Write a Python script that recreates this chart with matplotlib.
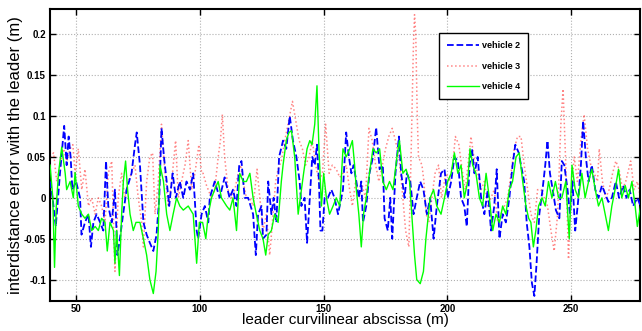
import numpy as np
import matplotlib
matplotlib.use("Agg")
import matplotlib.pyplot as plt

plt.rcParams['font.family'] = ['Liberation Sans', 'DejaVu Sans']

# vehicle 2 (blue dashed)
x2 = [39.5, 40.5, 41.8, 43.5, 45.2, 46.2, 47, 47.8, 48.5, 50, 51.6, 52.2, 53.6, 55, 56, 57, 58.3, 59.7, 61,
      62.1, 63, 64.4, 65.7, 66.7, 67.7, 69, 70.4, 72.4, 73.8, 74.5, 75.8, 77.2, 78.5, 79.8, 81.2, 82.5, 83.6,
      84.5, 85.5, 86.6, 87.6, 89, 90.3, 91.9, 93.3, 94.6, 96, 97.3, 98.7, 99.3, 100.7, 102, 103.4, 104, 106,
      108, 110, 112, 113.4, 114.8, 115.9, 116.8, 118.1, 119.5, 121.5, 122.6, 123.5, 124.9, 125.5, 126.9,
      127.6, 128.9, 129.8, 130.9, 132, 133.6, 134.9, 136.3, 137.6, 139, 140.3, 141, 142.3, 143.3, 144.4,
      145.4, 146.4, 147.3, 148.1, 148.7, 149.5, 150.4, 151.7, 153.1, 154.4, 155.8, 157.8, 159.1, 160.2,
      161.2, 162.1, 163.2, 164.2, 165.2, 165.9, 167.2, 168.5, 169.9, 171.2, 172.6, 173.9, 174.6, 175.9,
      176.9, 177.7, 179, 180.4, 181.3, 182.7, 183.6, 185, 186.3, 187.6, 189, 190.3, 191.7, 193, 194.4,
      195.7, 197.4, 198.8, 200.1, 201.5, 202.8, 204.2, 205.5, 206.8, 207.8, 208.9, 209.9, 210.9, 212.2,
      213.6, 214.9, 216.3, 217.6, 218.9, 219.9, 221, 222.3, 223.6, 225, 226.3, 227.4, 228.8, 229.7, 231,
      232, 233.1, 234.1, 235.1, 236, 237.1, 238.4, 239.5, 240.4, 241.4, 242.5, 243.8, 245.2, 246.2, 247.2,
      248.5, 249.5, 250.5, 251.6, 252.9, 253.9, 254.8, 255.9, 257, 258.3, 259.7, 261, 262.4, 263.7, 265,
      266.4, 268, 269.3, 271, 272.3, 273.6, 275, 276.7, 278]
err2 = [0.02, 0.0, -0.035, 0.03, 0.088, 0.04, 0.075, 0.05, 0.01, 0.02, 0.0, -0.045, -0.03, -0.02, -0.06,
        -0.03, -0.02, -0.03, -0.04, 0.045, -0.01, -0.03, 0.01, -0.07, -0.05, -0.02, 0.01, 0.03, 0.065, 0.08,
        0.04, -0.03, -0.045, -0.055, -0.065, -0.045, 0.0, 0.085, 0.05, 0.02, -0.01, 0.03, 0.0, 0.02, 0.0,
        0.02, 0.01, 0.03, -0.04, -0.05, -0.02, -0.01, -0.03, 0.0, 0.02, 0.0, 0.025, 0.0, 0.01, -0.01, 0.04,
        0.045, 0.0, 0.0, -0.02, -0.07, -0.02, -0.01, -0.05, -0.045, 0.02, -0.02, 0.0, -0.03, 0.05, 0.07,
        0.06, 0.1, 0.07, 0.05, 0.02, -0.01, 0.0, -0.055, 0.0, 0.05, 0.04, 0.065, 0.02, -0.04, -0.04, 0.0,
        0.0, 0.01, 0.0, -0.02, 0.01, 0.08, 0.05, 0.03, 0.04, 0.02, 0.0, 0.02, -0.03, -0.01, 0.03, 0.05,
        0.086, 0.035, 0.04, -0.025, -0.04, 0.0, -0.05, 0.03, 0.075, 0.03, 0.0, 0.03, 0.02, -0.02, 0.0,
        0.02, 0.01, -0.02, 0.0, -0.05, -0.01, 0.03, 0.035, 0.0, 0.02, 0.05, 0.045, 0.0, -0.01, -0.035,
        0.04, 0.06, 0.03, 0.05, 0.0, -0.02, 0.01, -0.04, -0.01, 0.035, -0.05, -0.02, -0.03, 0.0, 0.04,
        0.065, 0.055, 0.04, 0.02, -0.03, -0.06, -0.104, -0.12, -0.08, -0.02, 0.01, 0.04, 0.07, 0.03, 0.01,
        -0.015, -0.025, 0.045, 0.04, 0.01, -0.02, 0.02, -0.04, 0.0, 0.04, 0.094, 0.05, 0.02, 0.04, 0.01,
        0.0, 0.015, 0.005, -0.005, 0.0, 0.02, 0.0, 0.015, 0.0, 0.01, -0.01, 0.0, -0.01]

# vehicle 3 (red dotted)
x3 = [39.5, 40.9, 42.2, 43.5, 45, 46.2, 47.6, 48.7, 49.6, 50.9, 52.3, 53.6, 55, 56.3, 57.7, 59, 60.3, 61.7,
      63, 64.4, 65.7, 67, 68.4, 69.7, 71, 72.4, 73.8, 75.1, 76.5, 77.2, 78.5, 79.8, 80.9, 81.9, 83.2, 84.5,
      85.9, 87.2, 88.6, 90.2, 91.3, 92.6, 94, 95.3, 96.7, 98, 99.6, 100.7, 101.3, 102.7, 104.7, 106, 107.4,
      108.3, 109.1, 110, 111.4, 112.8, 114.1, 115.5, 116.4, 117.5, 118.8, 120.2, 121.5, 123.1, 124.2,
      125.5, 126.9, 128.2, 129.3, 130.6, 131.6, 132.9, 134.3, 135.6, 137.4, 138.7, 140.1, 141.4, 142.7,
      144.1, 145.4, 146.8, 148.1, 149.5, 150.8, 152.2, 153.5, 155.1, 156.5, 157.8, 159.1, 160.5, 161.6,
      162.9, 164.2, 165.6, 166.9, 168.3, 169.6, 171, 172.3, 173.7, 175, 176.3, 177.7, 179, 180.4, 181.7,
      183.1, 184.4, 185.3, 186.2, 186.7, 187.2, 187.8, 188.3, 189.7, 190.5, 191.4, 192.5, 193.7, 195,
      196.4, 197.6, 198.8, 199.4, 200.8, 202.1, 203.2, 204.6, 205.9, 207.2, 208.6, 209.5, 210.9, 212.2,
      213.6, 214.9, 216.3, 217.6, 218.9, 220.3, 221.6, 223, 224.3, 225.7, 227, 228.3, 229.7, 231, 232.4,
      233.7, 235.1, 236.4, 237.8, 239.1, 240.4, 241.8, 243.1, 244.5, 245.8, 246.7, 247.8, 248.9, 249.8,
      251.2, 252.5, 253.9, 255.2, 256.6, 257.9, 259.3, 260.6, 261.3, 262.6, 264, 265.3, 266.7, 268,
      269.3, 270.7, 272, 274, 275.4, 276.7, 278]
err3 = [0.05, 0.055, 0.02, 0.04, 0.06, 0.045, 0.06, 0.065, 0.03, 0.06, 0.01, 0.035, -0.01, 0.0, -0.02, 0.0,
        -0.01, -0.03, 0.03, 0.045, -0.09, 0.0, 0.03, 0.0, 0.02, 0.03, 0.04, 0.0, -0.03, -0.06, 0.02, 0.05,
        0.055, -0.02, 0.02, 0.09, 0.03, -0.01, 0.02, 0.07, 0.0, 0.02, 0.04, 0.07, 0.01, 0.03, 0.065, 0.03,
        0.03, 0.015, 0.0, 0.01, 0.05, 0.07, 0.102, 0.05, 0.01, 0.0, 0.01, 0.03, 0.04, 0.02, 0.0, 0.0, -0.01,
        0.035, 0.0, -0.04, -0.02, -0.07, -0.03, 0.02, 0.035, 0.045, 0.07, 0.09, 0.118, 0.095, 0.07, 0.06,
        0.04, 0.05, 0.07, 0.04, 0.02, 0.03, 0.09, 0.03, 0.04, 0.035, 0.025, 0.03, 0.04, 0.01, -0.01, 0.02,
        0.0, 0.015, 0.0, 0.085, 0.07, 0.04, 0.02, 0.04, 0.06, 0.075, 0.085, 0.07, 0.05, 0.01, -0.04, -0.06,
        0.05, 0.18, 0.224, 0.2, 0.1, 0.05, 0.04, 0.02, -0.02, -0.03, 0.0, 0.03, 0.04, 0.0, 0.02, 0.03, 0.02,
        0.04, 0.075, 0.065, 0.035, 0.01, 0.05, 0.075, 0.045, 0.03, 0.01, 0.02, -0.01, 0.0, 0.01, -0.03,
        -0.02, -0.01, 0.0, 0.03, 0.06, 0.075, 0.075, 0.04, 0.01, -0.02, -0.03, 0.01, 0.01, 0.0, -0.01,
        -0.04, -0.065, -0.02, 0.09, 0.133, 0.04, -0.075, 0.0, 0.05, 0.02, 0.07, 0.102, 0.06, 0.04, 0.03,
        0.02, 0.06, 0.02, 0.0, 0.01, 0.03, 0.045, 0.035, 0.01, 0.02, 0.045, 0.01, 0.02, 0.0]

# vehicle 4 (green solid)
x4 = [39.5, 40.6, 41.3, 42, 42.9, 44.2, 45.6, 46.2, 47.6, 48.9, 49.6, 50.9, 52.3, 53.6, 55, 56.3, 57.7, 59,
      60.3, 61.7, 62.6, 63.7, 65.1, 65.7, 66.4, 67.5, 68.4, 69.1, 70, 70.8, 71.8, 73.1, 74.2, 75.8, 77.2,
      78.5, 79.8, 81.2, 82.3, 83.2, 83.9, 85.3, 86.6, 87.9, 89.2, 90.6, 91.9, 93.3, 95.3, 97.3, 98.7, 99.8,
      101.1, 102.4, 103.4, 104.7, 106, 107.4, 108.7, 110.8, 112.1, 113.4, 114.8, 116.1, 117.5, 118.8,
      120.2, 121.5, 122.8, 124.2, 125.5, 126.6, 127.6, 128.9, 130.2, 131.6, 132.9, 133.6, 134.9, 136, 137,
      138.3, 139.7, 141, 141.9, 143.3, 144.4, 145.3, 146.4, 147.3, 148.1, 149.1, 150, 151.1, 152.4, 153.8,
      155.1, 156.5, 157.8, 159.1, 160.5, 161.6, 162.5, 163.2, 164.2, 165.2, 166.1, 167.2, 168.5, 169.9,
      171.2, 172.6, 173.9, 175.3, 176.6, 178, 179.6, 180.6, 182, 183.3, 184.7, 185.6, 186.7, 187.6, 189,
      190.3, 191.3, 192.3, 193, 194.4, 195.7, 197.4, 198.8, 200.1, 201.5, 202.8, 204.2, 205.5, 206.8,
      208.2, 209.1, 210.2, 211.5, 212.9, 214.2, 215.6, 216.9, 218.3, 219.6, 221, 222.3, 223.6, 225, 226.3,
      227.7, 229, 230.4, 231.7, 232.8, 233.7, 234.7, 235.7, 236.8, 238.2, 239.5, 240.8, 242.2, 243.6,
      244.9, 246.2, 247.8, 249.2, 250.3, 251.6, 252.9, 254.3, 255.6, 257, 258.3, 259.7, 261, 262.4, 263.7,
      265, 266.4, 267.7, 269.1, 270.4, 271.8, 273.1, 274.5, 275.8, 276.7, 278]
err4 = [0.04, 0.0, -0.085, -0.01, 0.03, 0.062, 0.03, 0.01, 0.02, 0.0, 0.031, -0.01, -0.02, -0.025, -0.02,
        -0.04, -0.035, -0.04, -0.025, -0.03, -0.065, -0.03, -0.04, -0.08, -0.04, -0.095, -0.02, 0.02, 0.045,
        0.01, -0.02, -0.04, -0.03, -0.03, -0.05, -0.07, -0.1, -0.117, -0.09, -0.04, 0.04, 0.02, -0.02,
        -0.04, -0.02, 0.0, -0.01, -0.015, -0.01, -0.02, -0.08, -0.03, -0.03, -0.05, -0.02, 0.0, 0.01, 0.02,
        0.0, -0.01, -0.015, 0.0, -0.04, 0.03, 0.02, 0.02, 0.03, 0.0, -0.02, -0.04, -0.05, -0.07, -0.045,
        -0.04, -0.02, -0.03, 0.02, 0.04, 0.07, 0.08, 0.082, 0.05, -0.02, 0.01, 0.03, 0.06, 0.07, 0.065,
        0.09, 0.137, 0.06, -0.01, 0.03, 0.0, -0.02, -0.01, 0.0, -0.01, 0.06, 0.05, 0.06, 0.07, 0.04, 0.01,
        -0.02, -0.06, -0.02, 0.0, 0.03, 0.06, 0.055, 0.06, 0.02, 0.01, 0.02, 0.01, 0.05, 0.07, 0.03, 0.035,
        0.02, -0.02, -0.07, -0.1, -0.105, -0.09, -0.05, -0.02, 0.0, 0.01, -0.01, -0.02, 0.0, 0.02, 0.03,
        0.055, 0.03, 0.04, 0.0, 0.02, 0.06, 0.04, 0.03, 0.0, -0.01, 0.03, 0.0, -0.04, -0.02, -0.03, -0.01,
        -0.02, 0.01, 0.02, 0.05, 0.055, 0.02, -0.01, -0.025, -0.03, -0.06, -0.04, -0.01, 0.0, -0.01, 0.02,
        0.0, 0.02, 0.0, 0.0, 0.02, -0.05, 0.04, 0.01, 0.0, 0.03, 0.0, 0.02, 0.035, 0.01, -0.01, 0.0, -0.02,
        -0.04, -0.01, 0.01, 0.035, 0.0, 0.015, 0.0, 0.02, -0.01, -0.035, -0.01]

fig = plt.figure(figsize=(6.42, 3.31), dpi=100)
ax = fig.add_axes([0.078, 0.091, 0.919, 0.882])

ax.plot(x2, err2, '--', color=(0, 0, 1), lw=1.3, label='vehicle 2', zorder=3)
ax.plot(x3, err3, ':', color='#ff3333', lw=1.1, alpha=0.6, label='vehicle 3', zorder=2)
ax.plot(x4, err4, '-', color=(0, 1, 0), lw=1.0, label='vehicle 4', zorder=4)

ax.set_xlim(39.5, 277.8)
ax.set_ylim(-0.126, 0.231)
ax.set_xticks([50, 100, 150, 200, 250])
ax.set_yticks([-0.1, -0.05, 0, 0.05, 0.1, 0.15, 0.2])
ax.set_yticklabels(['-0.1', '-0.05', '0', '0.05', '0.1', '0.15', '0.2'])
ax.grid(True, ls=':', color='#b0b0b0', lw=0.8)
ax.tick_params(direction='in', length=4, width=1, top=True, right=True, labelsize=7, pad=3)
ax.tick_params(axis='x', pad=2)
for lab in ax.get_xticklabels() + ax.get_yticklabels():
    lab.set_fontweight('bold')
for s in ax.spines.values():
    s.set_linewidth(1.5)

ax.set_xlabel('leader curvilinear abscissa (m)', fontsize=11)
ax.xaxis.set_label_coords(0.5, -0.042)
ax.set_ylabel('interdistance error with the leader (m)', fontsize=12)
ax.yaxis.set_label_coords(-0.046, 0.5)

leg = ax.legend(loc='upper left', bbox_to_anchor=(0.651, 0.932),
                prop={'weight': 'bold', 'size': 6.5}, handlelength=3.6, labelspacing=1.25,
                borderpad=0.9, handletextpad=0.3, fancybox=False, framealpha=1)
leg.get_frame().set_edgecolor('black')
leg.get_frame().set_linewidth(1.0)

fig.savefig('out.png', dpi=100)
